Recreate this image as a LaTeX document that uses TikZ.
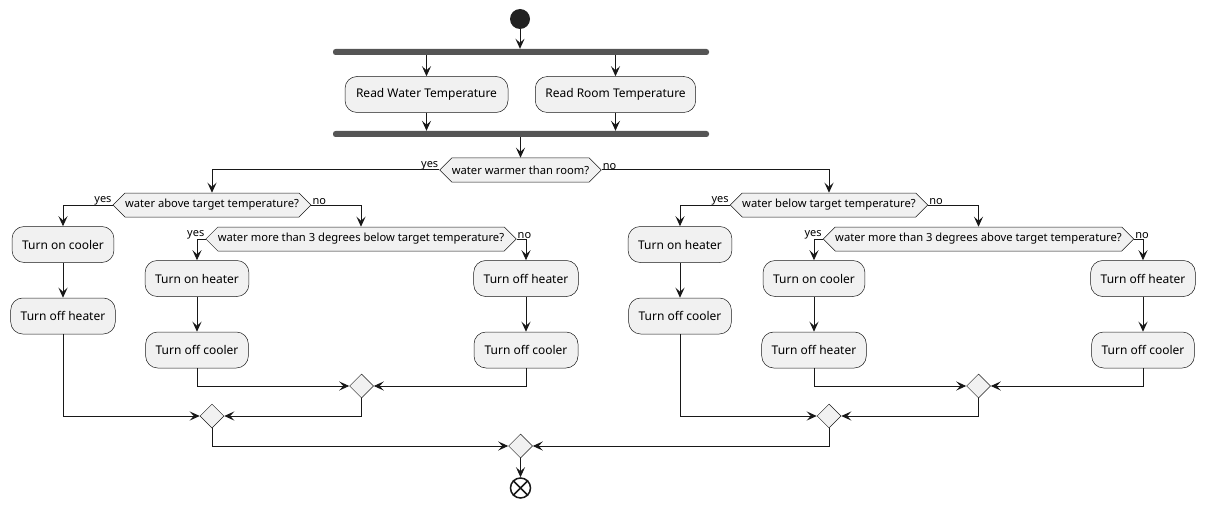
\documentclass[tikz,border=0pt]{standalone}
\usepackage{fontspec}
\setmainfont{Noto Sans}
\usetikzlibrary{shapes.geometric,shapes.symbols,arrows.meta}
\definecolor{boxfill}{HTML}{F1F1F1}
\definecolor{linec}{HTML}{181818}
\definecolor{barc}{HTML}{555555}
\definecolor{startc}{HTML}{222222}
\begin{document}
\begin{tikzpicture}[x=1pt,y=-1pt,
  act/.style={draw=linec, fill=boxfill, rounded corners=12pt, line width=0.5pt, minimum height=36pt, inner xsep=10pt, font=\fontsize{12}{14}\selectfont},
  hexd/.style={draw=linec, fill=boxfill, line width=0.5pt, shape=signal, signal to=east and west, signal pointer angle=90, minimum height=24pt, inner sep=0pt, font=\fontsize{11.2}{13}\selectfont},
  merge/.style={draw=linec, fill=boxfill, diamond, minimum width=24pt, minimum height=24pt, inner sep=0pt, line width=0.5pt},
  bar/.style={fill=barc, rounded corners=2.5pt, minimum width=376pt, minimum height=6pt, inner sep=0pt},
  arr/.style={draw=linec, line width=1pt, -{Stealth[length=10pt,width=9pt,inset=4pt]}},
  ln/.style={draw=linec, line width=1pt},
  lbl/.style={font=\fontsize{11}{13}\selectfont, inner sep=1pt}
]
\useasboundingbox (0,0) rectangle (1205,508);
% top
\node[circle, fill=startc, minimum size=20pt, inner sep=0pt] (S) at (520,19) {};
\node[bar] (B1) at (521,52) {};
\node[act, minimum width=163pt] (RW) at (426.5,94.5) {Read Water Temperature};
\node[act, minimum width=159pt] (RR) at (615.5,94.5) {Read Room Temperature};
\node[bar] (B2) at (521,134) {};
\node[hexd, minimum width=159pt] (H0) at (520.5,170) {water warmer than room?};
\node[lbl, anchor=south east] at ([yshift=-1pt]H0.west) {yes};
\node[lbl, anchor=south west] at ([yshift=-1pt]H0.east) {no};
% left branch
\node[hexd, minimum width=196pt] (HL) at (212,205) {water above target temperature?};
\node[lbl, anchor=south east] at ([yshift=-1pt]HL.west) {yes};
\node[lbl, anchor=south west] at ([yshift=-1pt]HL.east) {no};
\node[act, minimum width=101pt] (A1) at (63,244.5) {Turn on cooler};
\node[act, minimum width=103pt] (A2) at (63,316) {Turn off heater};
\node[hexd, minimum width=308pt] (HLL) at (361,239) {water more than 3 degrees below target temperature?};
\node[lbl, anchor=south east] at ([yshift=-1pt]HLL.west) {yes};
\node[lbl, anchor=south west] at ([yshift=-1pt]HLL.east) {no};
\node[act, minimum width=103pt] (A3) at (197,278.5) {Turn on heater};
\node[act, minimum width=102pt] (A4) at (197,350) {Turn off cooler};
\node[act, minimum width=104pt] (A5) at (526,278.5) {Turn off heater};
\node[act, minimum width=104pt] (A6) at (526,350) {Turn off cooler};
\node[merge] (M1) at (361.5,386) {};
\node[merge] (M2) at (212,416) {};
% right branch
\node[hexd, minimum width=196pt] (HR) at (829,205) {water below target temperature?};
\node[lbl, anchor=south east] at ([yshift=-1pt]HR.west) {yes};
\node[lbl, anchor=south west] at ([yshift=-1pt]HR.east) {no};
\node[act, minimum width=101pt] (C1) at (680,244.5) {Turn on heater};
\node[act, minimum width=102pt] (C2) at (680,316) {Turn off cooler};
\node[hexd, minimum width=309pt] (HRR) at (978.5,239) {water more than 3 degrees above target temperature?};
\node[lbl, anchor=south east] at ([yshift=-1pt]HRR.west) {yes};
\node[lbl, anchor=south west] at ([yshift=-1pt]HRR.east) {no};
\node[act, minimum width=100pt] (C3) at (814,278.5) {Turn on cooler};
\node[act, minimum width=104pt] (C4) at (814,350) {Turn off heater};
\node[act, minimum width=102pt] (C5) at (1143,278.5) {Turn off heater};
\node[act, minimum width=102pt] (C6) at (1143,350) {Turn off cooler};
\node[merge] (M4) at (978.5,386) {};
\node[merge] (M5) at (829,416) {};
% end
\node[merge] (M3) at (520.5,446) {};
\node[circle, draw=linec, line width=1.5pt, minimum size=20pt, inner sep=0pt] (E) at (520.5,488) {};
\draw[linec, line width=1.5pt] (E.north west) -- (E.south east) (E.north east) -- (E.south west);
% connectors
\draw[arr] (S.south) -- (S.south |- B1.north);
\draw[arr] (RW |- B1.south) -- (RW.north);
\draw[arr] (RR |- B1.south) -- (RR.north);
\draw[arr] (RW.south) -- (RW |- B2.north);
\draw[arr] (RR.south) -- (RR |- B2.north);
\draw[arr] (H0 |- B2.south) -- (H0.north);
\draw[arr] (H0.west) -| (HL.north);
\draw[arr] (H0.east) -| (HR.north);
\draw[arr] (HL.west) -| (A1.north);
\draw[arr] (HL.east) -| (HLL.north);
\draw[arr] (A1) -- (A2);
\draw[arr] (HLL.west) -| (A3.north);
\draw[arr] (HLL.east) -| (A5.north);
\draw[arr] (A3) -- (A4);
\draw[arr] (A5) -- (A6);
\draw[arr] (A4.south) |- (M1.west);
\draw[arr] (A6.south) |- (M1.east);
\draw[arr] (A2.south) |- (M2.west);
\draw[arr] (M1.south) |- (M2.east);
\draw[arr] (HR.west) -| (C1.north);
\draw[arr] (HR.east) -| (HRR.north);
\draw[arr] (C1) -- (C2);
\draw[arr] (HRR.west) -| (C3.north);
\draw[arr] (HRR.east) -| (C5.north);
\draw[arr] (C3) -- (C4);
\draw[arr] (C5) -- (C6);
\draw[arr] (C4.south) |- (M4.west);
\draw[arr] (C6.south) |- (M4.east);
\draw[arr] (C2.south) |- (M5.west);
\draw[arr] (M4.south) |- (M5.east);
\draw[arr] (M2.south) |- (M3.west);
\draw[arr] (M5.south) |- (M3.east);
\draw[arr] (M3.south) -- (E.north);
\end{tikzpicture}
\end{document}
